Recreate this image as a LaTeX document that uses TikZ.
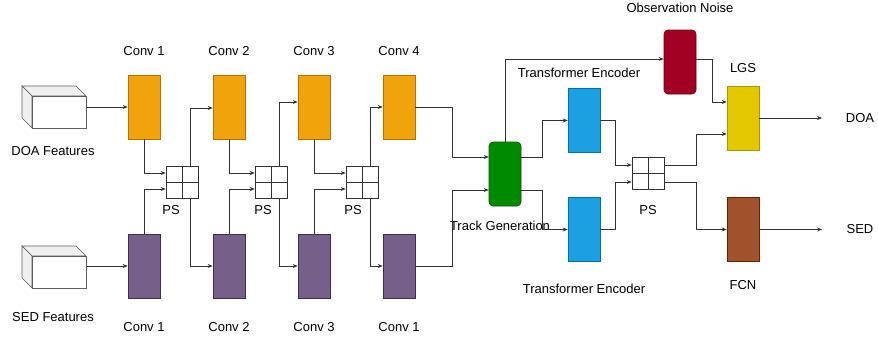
\documentclass[tikz,border=0pt]{standalone}
\usepackage{fontspec}
\setmainfont{Liberation Sans}
\usetikzlibrary{arrows.meta,calc}

\definecolor{convO}{HTML}{F0A30A}\definecolor{convOs}{HTML}{BD7000}
\definecolor{convP}{HTML}{76608A}\definecolor{convPs}{HTML}{432D57}
\definecolor{trkG}{HTML}{008A00}\definecolor{trkGs}{HTML}{005700}
\definecolor{encB}{HTML}{1BA1E2}\definecolor{encBs}{HTML}{006EAF}
\definecolor{obsR}{HTML}{A20025}\definecolor{obsRs}{HTML}{6F0000}
\definecolor{lgsY}{HTML}{E3C800}\definecolor{lgsYs}{HTML}{B09500}
\definecolor{fcnB}{HTML}{A0522D}\definecolor{fcnBs}{HTML}{6D1F00}
\definecolor{wire}{HTML}{333333}

\tikzset{
  blk/.style={minimum width=32pt,minimum height=64pt,inner sep=0pt,line width=0.6pt},
  convo/.style={blk,fill=convO,draw=convOs},
  convp/.style={blk,fill=convP,draw=convPs},
  enc/.style={blk,fill=encB,draw=encBs},
  rblk/.style={blk,rounded corners=4pt},
  psgrid/.style={minimum width=32pt,minimum height=32pt,inner sep=0pt,draw=wire,line width=0.6pt,fill=white},
  lbl/.style={font=\fontsize{13}{15}\selectfont,inner sep=0pt},
  arr/.style={draw=wire,line width=0.6pt,-{Stealth[length=5pt,width=4pt]}},
  cubeface/.style={draw=wire!80,line width=0.6pt},
}

\begin{document}
\begin{tikzpicture}[x=1pt,y=-1pt]
\useasboundingbox (0,0) rectangle (878,341);

% input feature cubes
\foreach \nm/\yy in {doacube/96,sedcube/256}{
  \fill[gray!12,cubeface] (22,\yy-10) -- (76,\yy-10) -- (86,\yy) -- (32,\yy) -- cycle;
  \fill[gray!12,cubeface] (22,\yy-10) -- (32,\yy) -- (32,\yy+32) -- (22,\yy+22) -- cycle;
  \node[cubeface,fill=white,minimum width=54pt,minimum height=32pt,inner sep=0pt,anchor=north west] (\nm) at (32,\yy) {};
}
\node[lbl] (doalbl) at (53,151) {DOA Features};
\node[lbl] (sedlbl) at (53,317) {SED Features};

% convolution stacks
\node[convo] (c1) at (144,107) {};
\node[convo] (c2) at (229,107) {};
\node[convo] (c3) at (314,107) {};
\node[convo] (c4) at (399,107) {};
\node[convp] (p1) at (144,266) {};
\node[convp] (p2) at (229,266) {};
\node[convp] (p3) at (314,266) {};
\node[convp] (p4) at (399,266) {};

\node[lbl] (t1) at (144,51) {Conv 1};
\node[lbl] (t2) at (229,51) {Conv 2};
\node[lbl] (t3) at (314,51) {Conv 3};
\node[lbl] (t4) at (399,51) {Conv 4};
\node[lbl] (b1) at (144,327) {Conv 1};
\node[lbl] (b2) at (229,327) {Conv 2};
\node[lbl] (b3) at (314,327) {Conv 3};
\node[lbl] (b4) at (399,327) {Conv 1};

% parameter sharing units
\foreach \nm/\xx/\yy in {ps1/182/182,ps2/271/182,ps3/362/182,ps4/648/173}{
  \node[psgrid] (\nm) at (\xx,\yy) {};
  \draw[wire,line width=0.6pt] (\nm.north) -- (\nm.south) (\nm.west) -- (\nm.east);
}
\node[lbl] (ps1l) at (171,210) {PS};
\node[lbl] (ps2l) at (263,210) {PS};
\node[lbl] (ps3l) at (353,210) {PS};
\node[lbl] (ps4l) at (648,210) {PS};

% later stages
\node[rblk,fill=trkG,draw=trkGs] (tg) at (505,174) {};
\node[lbl] (tgl) at (500,226) {Track Generation};
\node[enc] (te1) at (584,120.5) {};
\node[enc] (te2) at (584,229.5) {};
\node[lbl] (te1l) at (579,73) {Transformer Encoder};
\node[lbl] (te2l) at (584,289) {Transformer Encoder};
\node[rblk,fill=obsR,draw=obsRs] (on) at (680,62) {};
\node[lbl] (onl) at (680,8) {Observation Noise};
\node[blk,fill=lgsY,draw=lgsYs] (lgs) at (743,118) {};
\node[lbl] (lgsl) at (743,68) {LGS};
\node[blk,fill=fcnB,draw=fcnBs] (fcn) at (743,229.5) {};
\node[lbl] (fcnl) at (743,285) {FCN};
\node[lbl] (doa) at (860,118) {DOA};
\node[lbl] (sed) at (860,229.5) {SED};
\coordinate (doaend) at (822,118);
\coordinate (sedend) at (822,229.5);

% feature inputs
\draw[arr] (doacube.east |- c1.west) -- (c1.west);
\draw[arr] (sedcube.east |- p1.west) -- (p1.west);

% into the sharing units
\draw[arr] (c1.south) |- ($(ps1.west)+(0,-9)$);
\draw[arr] (p1.north) |- ($(ps1.west)+(0,7)$);
\draw[arr] (c2.south) |- ($(ps2.west)+(0,-9)$);
\draw[arr] (p2.north) |- ($(ps2.west)+(0,7)$);
\draw[arr] (c3.south) |- ($(ps3.west)+(0,-9)$);
\draw[arr] (p3.north) |- ($(ps3.west)+(0,7)$);

% out of the sharing units
\draw[arr] ($(ps1.north east)+(-8,0)$) |- ($(c2.west)+(0,1)$);
\draw[arr] ($(ps1.south east)+(-8,0)$) |- (p2.west);
\draw[arr] ($(ps2.north east)+(-8,0)$) |- ($(c3.west)+(0,-5)$);
\draw[arr] ($(ps2.south east)+(-8,0)$) |- (p3.west);
\draw[arr] ($(ps3.north east)+(-8,0)$) |- (c4.west);
\draw[arr] ($(ps3.south east)+(-8,0)$) |- (p4.west);

% into track generation
\draw[arr] (c4.east) -- ++(37,0) |- ($(tg.west)+(0,-17)$);
\draw[arr] (p4.east) -- ++(37,0) |- ($(tg.west)+(0,16)$);

% track generation outputs
\draw[arr] (tg.north) |- ($(on.west)+(0,-3)$);
\draw[arr] ($(tg.east)+(0,-17)$) -- ++(21,0) |- (te1.west);
\draw[arr] ($(tg.east)+(0,16)$) -- ++(21,0) |- (te2.west);

% encoders into the last sharing unit
\draw[arr] (te1.east) -- ++(15,0) |- ($(ps4.west)+(0,-8)$);
\draw[arr] (te2.east) -- ++(15,0) |- ($(ps4.west)+(0,9)$);

% heads
\draw[arr] ($(on.east)+(0,-3)$) -- ++(16,0) |- ($(lgs.west)+(0,-16)$);
\draw[arr] ($(ps4.east)+(0,-8)$) -- ++(32,0) |- ($(lgs.west)+(0,16)$);
\draw[arr] ($(ps4.east)+(0,9)$) -- ++(32,0) |- (fcn.west);
\draw[arr] (lgs.east) -- (doaend);
\draw[arr] (fcn.east) -- (sedend);
\end{tikzpicture}
\end{document}
